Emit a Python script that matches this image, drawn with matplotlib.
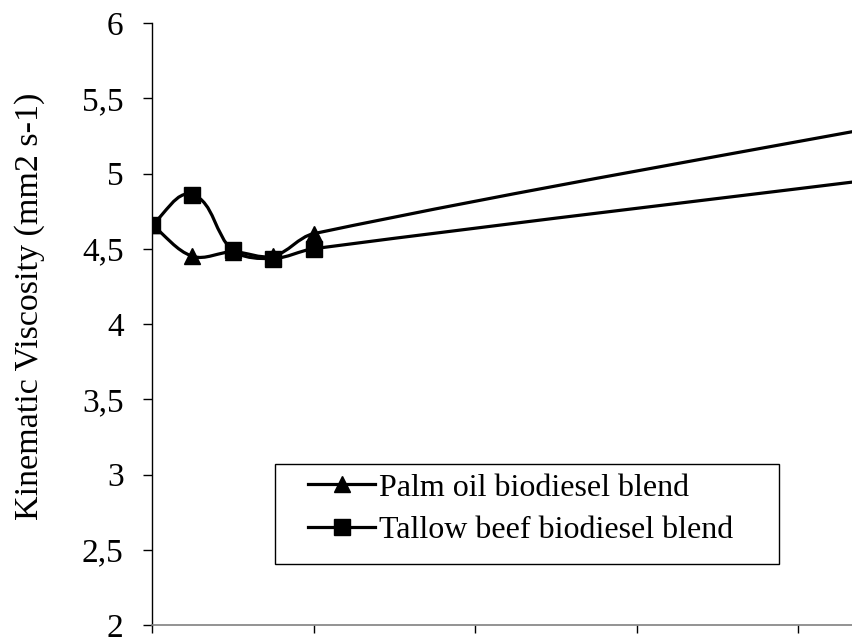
import numpy as np
import matplotlib
matplotlib.use("Agg")
import matplotlib.pyplot as plt
from matplotlib.path import Path
from matplotlib.patches import PathPatch, Rectangle
from matplotlib.lines import Line2D

# Data (blend percentage vs kinematic viscosity)
blend_pct = [0, 5, 10, 15, 20, 100]
palm_visc = [4.66, 4.45, 4.48, 4.45, 4.60, 5.41]
tallow_visc = [4.66, 4.86, 4.49, 4.435, 4.50, 5.03]
series_names = ["Palm oil biodiesel blend", "Tallow beef biodiesel blend"]
y_ticks = [2, 2.5, 3, 3.5, 4, 4.5, 5, 5.5, 6]
y_tick_labels = ["2", "2,5", "3", "3,5", "4", "4,5", "5", "5,5", "6"]
x_ticks = [0, 20, 40, 60, 80]

plt.rcParams['font.family'] = ['Liberation Serif', 'DejaVu Serif']

fig = plt.figure(figsize=(8.52, 6.37), dpi=100)
ax = fig.add_axes([152/852, 12/637, 1 - 152/852, (625-23)/637])

XS = 161.5 / 20.0   # px per x unit (for smoothing geometry)
YS = 150.5          # px per y unit


def smooth_path(xs, ys):
    # smoothing computed in screen proportions; control handles scaled
    # by adjacent chord lengths to avoid loops on uneven spacing
    P = np.column_stack([np.asarray(xs, float) * XS, np.asarray(ys, float) * YS])
    n = len(P)
    tang = []
    for i in range(n):
        a = P[i - 1] if i > 0 else P[i]
        b = P[i + 1] if i < n - 1 else P[i]
        d = b - a
        tang.append(d / np.linalg.norm(d))
    verts = [P[0]]
    codes = [Path.MOVETO]
    for i in range(n - 1):
        p1, p2 = P[i], P[i + 1]
        L = np.linalg.norm(p2 - p1)
        c1 = p1 + tang[i] * L / 3.0
        c2 = p2 - tang[i + 1] * L / 3.0
        verts += [c1, c2, p2]
        codes += [Path.CURVE4] * 3
    V = np.array(verts)
    V[:, 0] /= XS
    V[:, 1] /= YS
    return Path(V, codes)


lw = 2.3
for ys in (palm_visc, tallow_visc):
    ax.add_patch(PathPatch(smooth_path(blend_pct, ys), facecolor='none',
                           edgecolor='black', lw=lw, zorder=2))

ax.plot(blend_pct, palm_visc, linestyle='none', marker='^', ms=12,
        color='black', zorder=3)
ax.plot(blend_pct, tallow_visc, linestyle='none', marker='s', ms=12,
        color='black', zorder=4)

ax.set_xlim(0, (852 - 152) / 161.5 * 20)
ax.set_ylim(2, 6)
ax.set_yticks(y_ticks)
ax.set_yticklabels(y_tick_labels)
ax.set_xticks(x_ticks)
ax.set_xticklabels([])

for s in ('top', 'right'):
    ax.spines[s].set_visible(False)
ax.spines['left'].set_color('black')
ax.spines['left'].set_linewidth(1.0)
ax.spines['bottom'].set_color('#808080')
ax.spines['bottom'].set_linewidth(1.2)
ax.tick_params(axis='y', direction='out', length=6.5, width=1.0,
               labelsize=24, pad=14, colors='black')
ax.tick_params(axis='x', direction='out', length=6, width=1.0, color='black')

ax.set_ylabel("Kinematic Viscosity (mm2 s-1)", fontsize=24.5)
ax.yaxis.set_label_coords(-(152 - 45) / 700, (625 - 306) / 602)

# Legend
handles = [Line2D([], [], color='black', lw=lw, marker='^', ms=12),
           Line2D([], [], color='black', lw=lw, marker='s', ms=12)]
x0 = (275 - 152) / 700
y0 = (625 - 564) / 602
w = (779 - 275) / 700
h = (564 - 464) / 602
ax.add_patch(Rectangle((x0, y0), w, h, transform=ax.transAxes, fill=True,
                       facecolor='white', edgecolor='black', lw=1.0, zorder=5))
leg = ax.legend(handles, series_names, loc='center left',
                bbox_to_anchor=((315 - 152) / 700 - 0.01, (625 - 509) / 602),
                frameon=False, fontsize=23, handlelength=2.1,
                handletextpad=0.12, labelspacing=0.4, borderpad=0,
                borderaxespad=0)
leg.set_zorder(6)

fig.savefig("out.png", dpi=100)
